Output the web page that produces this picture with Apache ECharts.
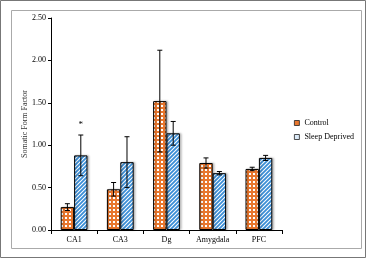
<!DOCTYPE html>
<html><head><meta charset="utf-8">
<script src="https://cdn.jsdelivr.net/npm/echarts@6/dist/echarts.min.js"></script>
<style>html,body{margin:0;padding:0;background:#fff}#c{width:366px;height:258px}</style>
</head><body><div id="c"></div>
<script>
var categories = ['CA1', 'CA3', 'Dg', 'Amygdala', 'PFC'];
var controlValues = [0.27, 0.48, 1.52, 0.79, 0.72];
var controlErrors = [0.04, 0.08, 0.60, 0.06, 0.02];
var sleepValues = [0.88, 0.80, 1.14, 0.67, 0.85];
var sleepErrors = [0.24, 0.30, 0.14, 0.02, 0.03];
var sleepMarks = ['*', '', '', '', ''];
var yTicks = [0, 0.5, 1.0, 1.5, 2.0, 2.5];
var seriesNames = ['Control', 'Sleep Deprived'];

var ORANGE = '#E8772E', BLUE = '#3B8ED6';
function dotPattern() {
  var c = document.createElement('canvas'); c.width = 4; c.height = 4;
  var g = c.getContext('2d');
  g.fillStyle = ORANGE; g.fillRect(0, 0, 4, 4);
  g.fillStyle = '#ffffff'; g.fillRect(1, 1, 2, 2);
  return {image: c, repeat: 'repeat'};
}
function stripePattern() {
  var c = document.createElement('canvas'); c.width = 4; c.height = 4;
  var g = c.getContext('2d');
  g.fillStyle = '#ffffff'; g.fillRect(0, 0, 4, 4);
  g.strokeStyle = BLUE; g.lineWidth = 1.8;
  g.beginPath();
  g.moveTo(-1, 5); g.lineTo(5, -1);
  g.moveTo(-1, 1); g.lineTo(1, -1);
  g.moveTo(3, 5); g.lineTo(5, 3);
  g.stroke();
  return {image: c, repeat: 'repeat'};
}
var GAP = 0.42;
var serif = "'Liberation Serif', 'Times New Roman', serif";
function errSeries(vals, errs, side, marks) {
  return {
    type: 'custom', silent: true, z: 5,
    data: vals.map(function (v, i) { return [i, v, errs[i]]; }),
    renderItem: function (params, api) {
      var i = api.value(0), v = api.value(1), e = api.value(2);
      var band = api.size([1, 0])[0];
      var bw = band * (1 - GAP) / 2;
      var p = api.coord([i, v]);
      var x = p[0] + side * bw / 2;
      var top = api.coord([i, v + e])[1], bot = api.coord([i, v - e])[1];
      var cap = 2.5;
      var ch = [
        {type: 'line', shape: {x1: x, y1: top, x2: x, y2: bot}, style: {stroke: '#000', lineWidth: 1}},
        {type: 'line', shape: {x1: x - cap, y1: top, x2: x + cap, y2: top}, style: {stroke: '#000', lineWidth: 1}},
        {type: 'line', shape: {x1: x - cap, y1: bot, x2: x + cap, y2: bot}, style: {stroke: '#000', lineWidth: 1}}
      ];
      var m = marks ? marks[i] : '';
      if (m) {
        var ty = api.coord([i, 1.24])[1];
        ch.push({type: 'text', style: {text: m, x: x, y: ty, align: 'center', verticalAlign: 'middle', font: "9px 'Liberation Serif', serif", fill: '#000'}});
      }
      return {type: 'group', children: ch};
    }
  };
}
var chart = echarts.init(document.getElementById('c'), null, {renderer: 'canvas'});
chart.setOption({
  animation: false,
  backgroundColor: '#fff',
  graphic: [
    {type: 'rect', shape: {x: 0.5, y: 0.5, width: 365, height: 257}, style: {fill: 'none', stroke: '#777', lineWidth: 1}, silent: true, z: -10},
    {type: 'rect', shape: {x: 11.5, y: 10.5, width: 350, height: 238}, style: {fill: 'none', stroke: '#aaa', lineWidth: 1}, silent: true, z: -10}
  ],
  grid: {left: 51, right: 84, top: 18, bottom: 28},
  legend: {
    orient: 'vertical', left: 289, top: 114, itemWidth: 5, itemHeight: 5, itemGap: 6,
    textStyle: {fontFamily: serif, fontSize: 8, color: '#000'},
    data: [
      {name: seriesNames[0], icon: 'rect', itemStyle: {color: ORANGE, borderColor: '#222', borderWidth: 0.8}},
      {name: seriesNames[1], icon: 'rect', itemStyle: {color: '#dbeaf8', borderColor: '#222', borderWidth: 0.8}}
    ]
  },
  xAxis: {
    type: 'category', data: categories,
    axisLine: {lineStyle: {color: '#000', width: 1}},
    axisTick: {show: true, length: 4, lineStyle: {color: '#000'}},
    axisLabel: {fontFamily: serif, fontSize: 8, color: '#000', margin: 6}
  },
  yAxis: {
    type: 'value', min: 0, max: 2.5, interval: 0.5,
    name: 'Somatic Form Factor', nameLocation: 'middle', nameGap: 22, nameMoveOverlap: false,
    nameTextStyle: {fontFamily: serif, fontSize: 8, color: '#333'},
    splitLine: {show: false},
    axisLine: {show: true, lineStyle: {color: '#000', width: 1}},
    axisTick: {show: true, length: 3, lineStyle: {color: '#000'}},
    axisLabel: {fontFamily: serif, fontSize: 8, color: '#000', margin: 5,
      formatter: function (v) { return v.toFixed(2); }}
  },
  series: [
    {name: seriesNames[0], type: 'bar', data: controlValues, barGap: '0%', barCategoryGap: (GAP * 100) + '%',
     itemStyle: {color: dotPattern(), borderColor: '#000', borderWidth: 1, shadowColor: 'rgba(0,0,0,0.25)', shadowOffsetX: 1.5, shadowOffsetY: 0, shadowBlur: 2}},
    {name: seriesNames[1], type: 'bar', data: sleepValues, barGap: '0%', barCategoryGap: (GAP * 100) + '%',
     itemStyle: {color: stripePattern(), borderColor: '#000', borderWidth: 1, shadowColor: 'rgba(0,0,0,0.25)', shadowOffsetX: 1.5, shadowOffsetY: 0, shadowBlur: 2}},
    errSeries(controlValues, controlErrors, -1, null),
    errSeries(sleepValues, sleepErrors, 1, sleepMarks)
  ]
});
</script></body></html>
